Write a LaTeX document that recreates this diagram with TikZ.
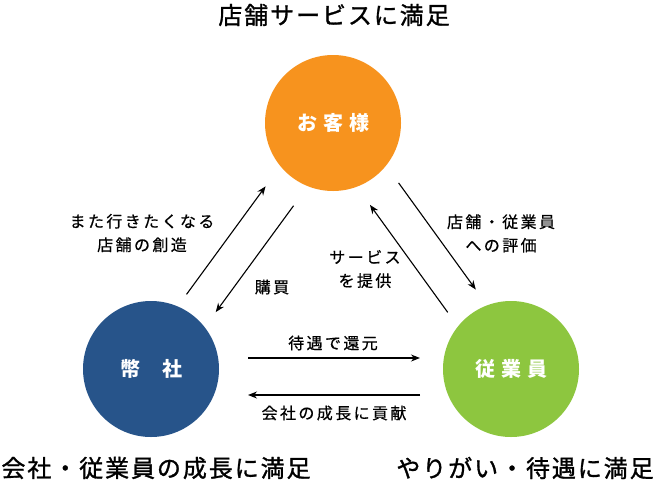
\documentclass[tikz,border=0pt]{standalone}
\usepackage{fontspec}
\setmainfont{Noto Sans CJK JP}
\usetikzlibrary{arrows.meta, positioning, calc}

\definecolor{custorange}{HTML}{F7931E}
\definecolor{compblue}{HTML}{27548A}
\definecolor{staffgreen}{HTML}{8DC63F}

\begin{document}
\begin{tikzpicture}[
    x=1pt, y=-1pt,
    >={Stealth[length=9pt,width=7pt]},
    party/.style = {circle, minimum size=136pt, inner sep=0pt, text=white,
                    font=\fontsize{20}{22}\selectfont\bfseries\addfontfeatures{LetterSpace=30}},
    flow/.style  = {->, line width=1.1pt},
    tag/.style   = {align=center, inner sep=0pt,
                    font=\fontsize{16}{23.5}\selectfont\addfontfeatures{LetterSpace=15,FakeBold=0.6}},
    goal/.style  = {inner sep=0pt,
                    font=\fontsize{24}{26}\selectfont\addfontfeatures{LetterSpace=8,FakeBold=1.2}}
  ]
  \useasboundingbox (0,0) rectangle (655,488);

  % ── Parties ─────────────────────────────────────────────────
  \node[party, fill=custorange] (cust)  at (333,123) {お客様};
  \node[party, fill=compblue]   (comp)  at (151,369) {幣\hspace{22pt}社};
  \node[party, fill=staffgreen] (staff) at (511,369) {従業員};

  % ── Satisfaction goals ──────────────────────────────────────
  \node[goal] (gcust)  at (334,15)  {店舗サービスに満足};
  \node[goal] (gcomp)  at (156,468) {会社・従業員の成長に満足};
  \node[goal] (gstaff) at (525,468) {やりがい・待遇に満足};

  % ── Flows ───────────────────────────────────────────────────

  % Company <-> Customer
  \draw[flow, shorten <=80pt, shorten >=91pt]
    ([shift={(-11.7,-10.1)}]comp.center) -- ([shift={(-13.7,-10.1)}]cust.center);
  \draw[flow, shorten <=90pt, shorten >=83pt]
    ([shift={(13.7,10.1)}]cust.center) -- ([shift={(15.7,10.1)}]comp.center);

  % Customer <-> Staff
  \draw[flow, shorten <=87pt, shorten >=85pt]
    ([shift={(14.6,-10.6)}]cust.center) -- ([shift={(14.6,-10.6)}]staff.center);
  \draw[flow, shorten <=83pt, shorten >=88pt]
    ([shift={(-14.6,10.6)}]staff.center) -- ([shift={(-14.6,10.6)}]cust.center);

  % Company <-> Staff
  \draw[flow, shorten <=97pt, shorten >=91pt]
    ([yshift=11pt]comp.center) -- ([yshift=11pt]staff.center);
  \draw[flow, shorten <=91pt, shorten >=97pt]
    ([yshift=-26pt]staff.center) -- ([yshift=-26pt]comp.center);

  % ── Flow labels ─────────────────────────────────────────────
  \node[tag] (lrevisit) at (142,233)   {また行きたくなる\\店舗の創造};
  \node[tag] (lbuy)     at (272,287)   {購買};
  \node[tag] (lservice) at (365,269)   {サービス\\を提供};
  \node[tag] (lreview)  at (501,233.5) {店舗・従業員\\への評価};
  \node[tag] (lreward)  at (333,343)   {待遇で還元};
  \node[tag] (lgrowth)  at (334,413)   {会社の成長に貢献};

\end{tikzpicture}
\end{document}
